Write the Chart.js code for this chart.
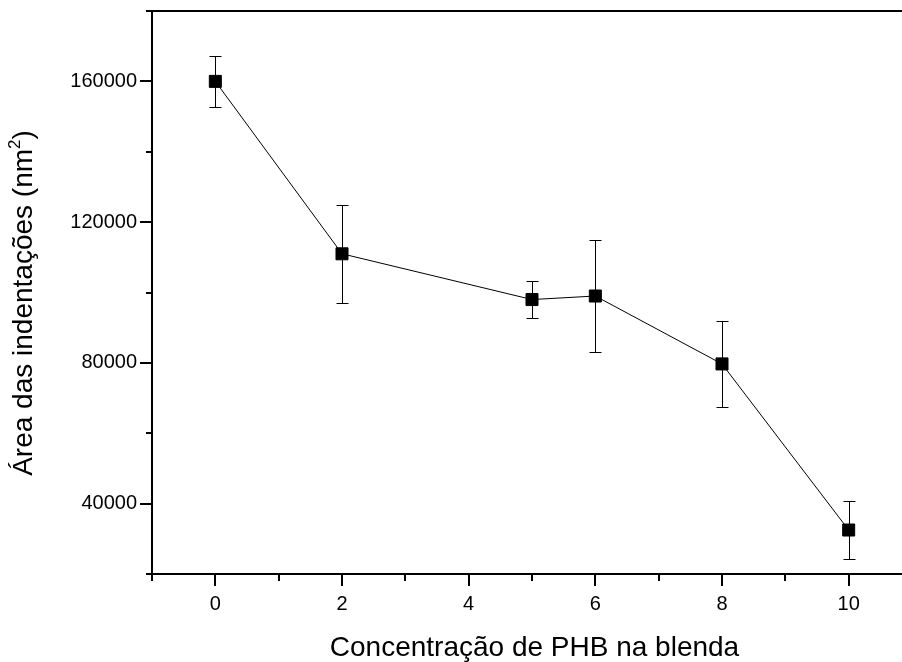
<!DOCTYPE html>
<html><head><meta charset="utf-8">
<script src="https://cdn.jsdelivr.net/npm/chart.js@4"></script>
<style>
html,body{margin:0;padding:0;background:#fff;overflow:hidden;width:902px;height:662px}
#wrap{position:relative;width:936px;height:662px}
</style></head>
<body><div id="wrap"><canvas id="c"></canvas></div>
<script>
const concentrations = [0, 2, 5, 6, 8, 10];
const areaMeans = [160000, 111000, 98000, 99000, 79700, 32500];
const areaErrors = [7200, 14000, 5300, 15800, 12100, 8200];
const xTickLabels = [0, 2, 4, 6, 8, 10];
const yTickLabels = [40000, 80000, 120000, 160000];
const xTitle = 'Concentração de PHB na blenda';
const yTitleMain = 'Área das indentações (nm';
const yTitleSup = '2';
const yTitleEnd = ')';

const FONT = '"Liberation Sans", Arial, Helvetica, sans-serif';

const errorBars = {
  id: 'errorBars',
  beforeDatasetsDraw(chart) {
    const {ctx, scales: {x, y}} = chart;
    ctx.save();
    ctx.strokeStyle = '#000';
    ctx.lineWidth = 1;
    concentrations.forEach((c, i) => {
      const px = Math.round(x.getPixelForValue(c)) + 0.5;
      const top = Math.round(y.getPixelForValue(areaMeans[i] + areaErrors[i])) + 0.5;
      const bot = Math.round(y.getPixelForValue(areaMeans[i] - areaErrors[i])) + 0.5;
      ctx.beginPath();
      ctx.moveTo(px, top); ctx.lineTo(px, bot);
      ctx.moveTo(px - 6, top); ctx.lineTo(px + 6, top);
      ctx.moveTo(px - 6, bot); ctx.lineTo(px + 6, bot);
      ctx.stroke();
    });
    ctx.restore();
  }
};

const frame = {
  id: 'frame',
  afterDraw(chart) {
    const {ctx, chartArea: a, scales: {x, y}} = chart;
    ctx.save();
    ctx.strokeStyle = '#000';
    ctx.lineWidth = 2;
    ctx.beginPath();
    ctx.moveTo(a.left, a.top); ctx.lineTo(a.right, a.top);
    ctx.moveTo(a.right, a.top); ctx.lineTo(a.right, a.bottom);
    x.ticks.forEach(t => {
      const px = Math.round(x.getPixelForValue(t.value));
      const len = xTickLabels.includes(t.value) ? 12 : 7;
      ctx.moveTo(px, a.bottom); ctx.lineTo(px, a.bottom + len);
    });
    y.ticks.forEach(t => {
      const py = Math.round(y.getPixelForValue(t.value));
      const len = yTickLabels.includes(t.value) ? 12 : 6;
      ctx.moveTo(a.left, py); ctx.lineTo(a.left - len, py);
    });
    ctx.stroke();

    ctx.fillStyle = '#000';
    ctx.font = '28px ' + FONT;
    ctx.textAlign = 'center';
    ctx.textBaseline = 'alphabetic';
    ctx.fillText(xTitle, 534.5, 656);

    ctx.translate(32, 303);
    ctx.rotate(-Math.PI / 2);
    ctx.font = '28px ' + FONT;
    const w1 = ctx.measureText(yTitleMain).width;
    const w3 = ctx.measureText(yTitleEnd).width;
    ctx.font = '17px ' + FONT;
    const w2 = ctx.measureText(yTitleSup).width;
    const total = w1 + w2 + w3;
    let sx = -total / 2;
    ctx.textAlign = 'left';
    ctx.font = '28px ' + FONT;
    ctx.fillText(yTitleMain, sx, 0);
    ctx.font = '17px ' + FONT;
    ctx.fillText(yTitleSup, sx + w1, -12);
    ctx.font = '28px ' + FONT;
    ctx.fillText(yTitleEnd, sx + w1 + w2, 0);
    ctx.restore();
  }
};

const axisCommon = {
  grid: { display: true, drawOnChartArea: false, drawTicks: true, tickLength: 12, color: 'rgba(0,0,0,0)' },
  border: { display: true, color: '#000', width: 2 }
};

new Chart(document.getElementById('c'), {
  type: 'line',
  data: {
    datasets: [{
      data: concentrations.map((c, i) => ({x: c, y: areaMeans[i]})),
      borderColor: '#000',
      borderWidth: 1,
      tension: 0,
      pointStyle: 'rect',
      pointRadius: 8.5,
      pointHoverRadius: 8.5,
      pointBackgroundColor: '#000',
      pointBorderColor: '#000',
      pointBorderWidth: 1,
      clip: false
    }]
  },
  plugins: [errorBars, frame],
  options: {
    responsive: true,
    maintainAspectRatio: false,
    devicePixelRatio: 1,
    animation: false,
    events: [],
    layout: { padding: { top: 11, right: 24, left: 0, bottom: 0 } },
    plugins: { legend: { display: false }, tooltip: { enabled: false } },
    scales: {
      x: {
        type: 'linear', min: -1, max: 11,
        afterFit(s) { s.height = 88; s.paddingLeft = 0; s.paddingRight = 0; },
        ticks: {
          stepSize: 1, autoSkip: false, maxRotation: 0, padding: 6, color: '#000',
          font: { family: FONT, size: 20 },
          callback: v => xTickLabels.includes(v) ? String(v) : ''
        },
        ...axisCommon
      },
      y: {
        type: 'linear', min: 20000, max: 180000,
        afterFit(s) { s.width = 152; s.paddingTop = 0; s.paddingBottom = 0; },
        ticks: {
          stepSize: 20000, autoSkip: false, padding: 3, color: '#000',
          font: { family: FONT, size: 20 },
          callback: v => yTickLabels.includes(v) ? String(v) : ''
        },
        ...axisCommon
      }
    }
  }
});
</script>
</body></html>
